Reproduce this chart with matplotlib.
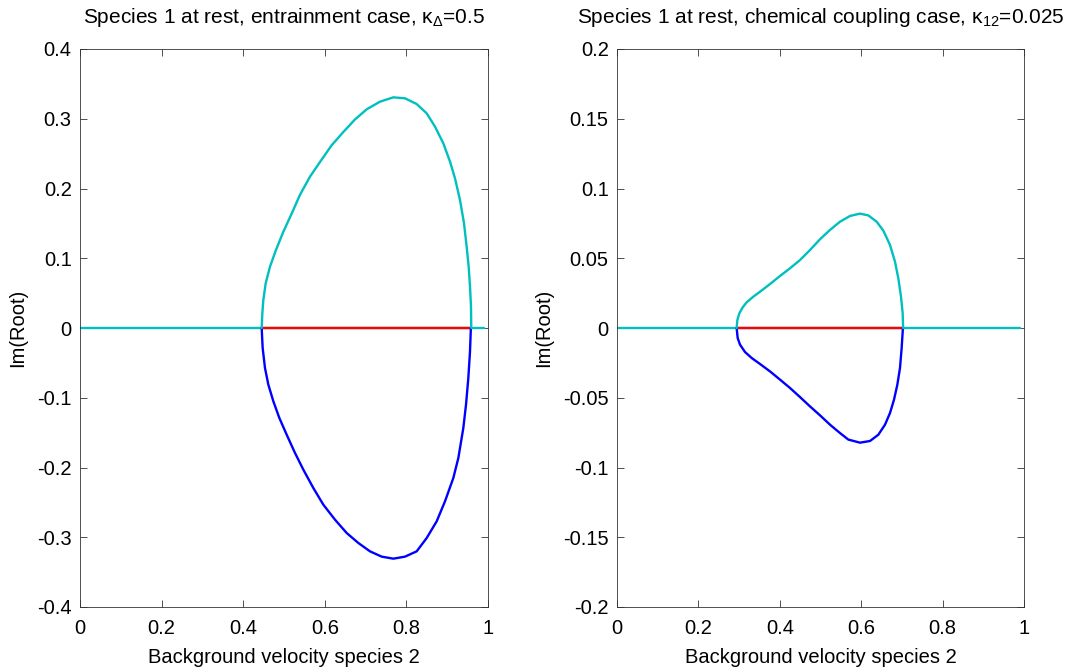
import matplotlib
matplotlib.use('Agg')
import matplotlib.pyplot as plt
import numpy as np

plt.rcParams['font.family'] = ['Liberation Sans', 'DejaVu Sans']
plt.rcParams['mathtext.fontset'] = 'custom'
plt.rcParams['mathtext.rm'] = 'Liberation Sans'
plt.rcParams['mathtext.it'] = 'Liberation Sans:italic'

CYAN = '#00BFBF'
BLUE = '#0000FF'
RED = '#FF0000'

# ── Left panel: entrainment case ───────────────────────────────
ent_up_x = [0.4453, 0.4469, 0.4493, 0.4551, 0.4657, 0.4804, 0.4984, 0.5188,
            0.5392, 0.5637, 0.5882, 0.6168, 0.6454, 0.6740, 0.7026, 0.7353,
            0.7680, 0.7966, 0.8252, 0.8497, 0.8701, 0.8905, 0.9069, 0.9191,
            0.9314, 0.9412, 0.9477, 0.9526, 0.9559, 0.9583, 0.9590]
ent_up_y = [0.0, 0.021, 0.040, 0.064, 0.088, 0.112, 0.138, 0.164,
            0.191, 0.217, 0.238, 0.262, 0.281, 0.299, 0.3135, 0.3245,
            0.3307, 0.3293, 0.3211, 0.3078, 0.2887, 0.2648, 0.2385, 0.2146,
            0.1835, 0.1501, 0.1166, 0.0879, 0.0593, 0.0306, 0.0]
ent_lo_x = [0.4453, 0.4477, 0.4534, 0.4616, 0.4739, 0.4886, 0.5065, 0.5270,
            0.5474, 0.5719, 0.5964, 0.6250, 0.6536, 0.6822, 0.7108, 0.7394,
            0.7680, 0.7966, 0.8252, 0.8497, 0.8742, 0.8946, 0.9150, 0.9273,
            0.9395, 0.9461, 0.9518, 0.9559, 0.9580]
ent_lo_y = [0.0, -0.0287, -0.0573, -0.0812, -0.1051, -0.1290, -0.1529, -0.1792,
            -0.2031, -0.2294, -0.2533, -0.2748, -0.2939, -0.3082, -0.3202, -0.3278,
            -0.3307, -0.3278, -0.3202, -0.3011, -0.2772, -0.2485, -0.2151, -0.1864,
            -0.1434, -0.1099, -0.0717, -0.0335, 0.0]
ent_zero_x = [0.0, 0.99]
ent_red_x = [0.4453, 0.9585]

# ── Right panel: chemical coupling case ────────────────────────
chem_up_x = [0.2940, 0.2957, 0.3006, 0.3088, 0.3186, 0.3350, 0.3514, 0.3759,
             0.4005, 0.4251, 0.4496, 0.4742, 0.4988, 0.5233, 0.5479, 0.5725,
             0.5971, 0.6175, 0.6380, 0.6544, 0.6708, 0.6830, 0.6912, 0.6978,
             0.7019, 0.7030]
chem_up_y = [0.0, 0.0057, 0.0105, 0.0148, 0.0184, 0.0225, 0.0260, 0.0315,
             0.0373, 0.0428, 0.0487, 0.0559, 0.0636, 0.0703, 0.0762, 0.0803,
             0.0820, 0.0807, 0.0762, 0.0698, 0.0595, 0.0476, 0.0356, 0.0225,
             0.0105, 0.0]
chem_lo_x = [0.2940, 0.2965, 0.3022, 0.3145, 0.3309, 0.3514, 0.3759, 0.4005,
             0.4251, 0.4496, 0.4742, 0.4988, 0.5233, 0.5479, 0.5684, 0.5971,
             0.6216, 0.6421, 0.6585, 0.6708, 0.6806, 0.6888, 0.6953, 0.6994,
             0.7025]
chem_lo_y = [0.0, -0.0072, -0.0119, -0.0172, -0.0215, -0.0258, -0.0311, -0.0370,
             -0.0430, -0.0495, -0.0562, -0.0626, -0.0693, -0.0753, -0.0800, -0.0822,
             -0.0810, -0.0765, -0.0693, -0.0609, -0.0514, -0.0406, -0.0287, -0.0143,
             0.0]
chem_zero_x = [0.0, 0.99]
chem_red_x = [0.2940, 0.7030]

LW = 1.7
FS = 14.5


def style_axes(ax, ylim, yticks):
    ax.set_xlim(0, 1)
    ax.set_ylim(*ylim)
    ax.set_xticks(np.linspace(0, 1, 6))
    ax.set_xticklabels(['0', '0.2', '0.4', '0.6', '0.8', '1'])
    ax.set_yticks(yticks)
    ax.set_yticklabels(['%g' % t for t in yticks])
    ax.tick_params(direction='in', length=5, width=0.6, top=True, right=True,
                   labelsize=FS, color='#333333')
    ax.tick_params(axis='x', pad=9)
    ax.tick_params(axis='y', pad=6)
    for s in ax.spines.values():
        s.set_linewidth(0.6)
        s.set_color('#333333')
    ax.set_xlabel('Background velocity species 2', fontsize=FS, labelpad=7)
    ax.set_ylabel('Im(Root)', fontsize=FS, labelpad=7)


def draw(ax, zx, rx, ux, uy, lx, ly):
    kw = dict(lw=LW, solid_joinstyle='round', solid_capstyle='round')
    ax.plot(zx, [0] * len(zx), color=CYAN, **kw)
    ax.plot(rx, [0] * len(rx), color=RED, **kw)
    ax.plot(lx, ly, color=BLUE, **kw)
    ax.plot(ux, uy, color=CYAN, **kw)


fig = plt.figure(figsize=(10.84, 6.72), dpi=100)
fig.patch.set_facecolor('white')

ax1 = fig.add_axes([80 / 1084, 65 / 672, 408 / 1084, 558 / 672])
draw(ax1, ent_zero_x, ent_red_x, ent_up_x, ent_up_y, ent_lo_x, ent_lo_y)
style_axes(ax1, (-0.4, 0.4), [-0.4, -0.3, -0.2, -0.1, 0, 0.1, 0.2, 0.3, 0.4])
ax1.set_title(r'Species 1 at rest, entrainment case, $\mathregular{\kappa_\Delta}$=0.5',
              fontsize=15, pad=19)

ax2 = fig.add_axes([617 / 1084, 65 / 672, 407 / 1084, 558 / 672])
draw(ax2, chem_zero_x, chem_red_x, chem_up_x, chem_up_y, chem_lo_x, chem_lo_y)
style_axes(ax2, (-0.2, 0.2), [-0.2, -0.15, -0.1, -0.05, 0, 0.05, 0.1, 0.15, 0.2])
ax2.set_title(r'Species 1 at rest, chemical coupling case, $\mathregular{\kappa_{12}}$=0.025',
              fontsize=15, pad=19)

fig.savefig('out.png', dpi=100, facecolor='white')
plt.close(fig)
